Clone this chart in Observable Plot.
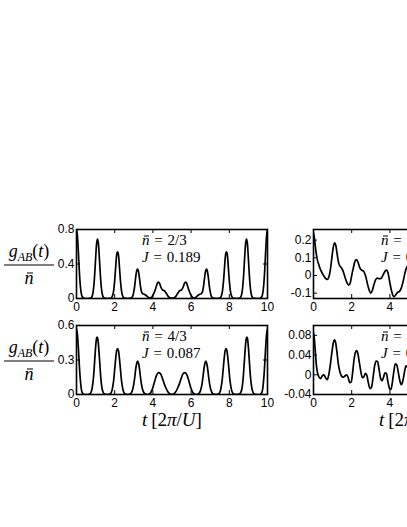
<!DOCTYPE html>
<html><head><meta charset="utf-8">
<script src="https://cdn.jsdelivr.net/npm/d3@7"></script>
<script src="https://cdn.jsdelivr.net/npm/@observablehq/plot@0.6"></script>
<style>
html,body{margin:0;padding:0;background:#fff;overflow:hidden;width:407px;height:527px}
#root{position:relative;width:560px;height:527px}
.tx{position:absolute;font-family:"Liberation Serif","DejaVu Serif",serif;color:#000;white-space:nowrap;line-height:1}
.ann{font-size:15px;transform:translateY(-50%);word-spacing:1px}
.frac{font-size:18px;text-align:center;width:50px;transform:translateY(-50%)}
.frac sub{font-size:12px;vertical-align:-4px}
.frac .bar{height:1px;background:#000;margin:2px 0 3px 0}
.xl{font-size:19px;transform:translate(-50%,-50%)}
.nb{position:relative;display:inline-block}
.nb::after{content:"";position:absolute;left:0.12em;right:0.02em;top:0.22em;border-top:1px solid #000}
</style></head><body><div id="root"></div><script>
const xTicks = [0, 2, 4, 6, 8, 10];

// top-left: nbar = 2/3, J = 0.189
const tA = [0,0.05,0.1,0.15,0.2,0.25,0.3,0.4,0.55,0.75,0.85,0.9,0.95,1.0,1.05,1.1,1.15,1.2,1.25,1.3,1.35,1.45,1.62,1.8,1.9,1.95,2.0,2.05,2.1,2.15,2.2,2.25,2.3,2.35,2.4,2.5,2.68,2.85,2.95,3.0,3.05,3.1,3.15,3.2,3.25,3.3,3.35,3.4,3.47,3.55,3.65,3.75,3.85,3.95,4.05,4.15,4.22,4.28,4.35,4.42,4.5,4.6,4.7,4.8,4.9,5.0,5.1,5.2,5.3,5.4,5.5,5.58,5.65,5.72,5.78,5.85,5.95,6.05,6.15,6.25,6.35,6.45,6.53,6.6,6.65,6.7,6.75,6.8,6.85,6.9,6.95,7.0,7.05,7.15,7.32,7.5,7.6,7.65,7.7,7.75,7.8,7.85,7.9,7.95,8.0,8.05,8.1,8.2,8.38,8.55,8.65,8.7,8.75,8.8,8.85,8.9,8.95,9.0,9.05,9.1,9.15,9.25,9.45,9.6,9.7,9.75,9.8,9.85,9.9,9.95,10];
const gA = [0.80,0.72,0.53,0.31,0.15,0.06,0.02,0.003,0,0.005,0.05,0.13,0.27,0.46,0.63,0.69,0.63,0.46,0.27,0.13,0.05,0.005,0,0.005,0.04,0.10,0.21,0.36,0.50,0.54,0.50,0.36,0.21,0.10,0.04,0.005,0,0.005,0.03,0.08,0.15,0.25,0.32,0.34,0.31,0.23,0.14,0.08,0.055,0.05,0.035,0.015,0.005,0.02,0.06,0.12,0.17,0.19,0.175,0.13,0.10,0.09,0.06,0.025,0.008,0.004,0.008,0.025,0.06,0.09,0.10,0.13,0.175,0.19,0.17,0.12,0.06,0.02,0.005,0.015,0.035,0.05,0.055,0.08,0.14,0.23,0.31,0.34,0.32,0.25,0.15,0.08,0.03,0.005,0,0.005,0.04,0.10,0.21,0.36,0.50,0.54,0.50,0.36,0.21,0.10,0.04,0.005,0,0.005,0.05,0.13,0.27,0.46,0.63,0.69,0.63,0.46,0.27,0.13,0.05,0.005,0,0.003,0.02,0.06,0.15,0.31,0.53,0.72,0.80];

// bottom-left: nbar = 4/3, J = 0.087
const tB = [0,0.05,0.1,0.15,0.2,0.25,0.3,0.4,0.6,0.7,0.8,0.85,0.9,0.95,1.0,1.05,1.08,1.12,1.17,1.22,1.27,1.32,1.38,1.48,1.6,1.75,1.85,1.9,1.95,2.0,2.05,2.1,2.15,2.2,2.25,2.3,2.35,2.4,2.45,2.55,2.68,2.8,2.9,2.95,3.0,3.05,3.1,3.15,3.2,3.25,3.3,3.35,3.4,3.45,3.5,3.6,3.7,3.8,3.9,4.0,4.1,4.2,4.3,4.4,4.5,4.6,4.7,4.8,4.9,4.98,5.08,5.18,5.28,5.38,5.48,5.58,5.68,5.78,5.88,5.98,6.08,6.18,6.27,6.37,6.47,6.52,6.57,6.62,6.67,6.72,6.77,6.82,6.87,6.92,6.97,7.02,7.07,7.17,7.3,7.43,7.53,7.58,7.63,7.68,7.73,7.78,7.83,7.88,7.93,7.98,8.03,8.08,8.13,8.23,8.4,8.52,8.62,8.68,8.73,8.78,8.83,8.88,8.92,8.95,9.0,9.05,9.1,9.15,9.2,9.3,9.4,9.6,9.7,9.75,9.8,9.85,9.9,9.95,10];
const gB = [0.57,0.52,0.40,0.25,0.13,0.05,0.015,0,0,0.005,0.04,0.09,0.17,0.29,0.41,0.49,0.50,0.48,0.39,0.27,0.15,0.07,0.025,0.003,0,0.004,0.03,0.07,0.13,0.22,0.31,0.38,0.40,0.38,0.31,0.22,0.13,0.07,0.03,0.004,0,0.003,0.025,0.05,0.09,0.15,0.22,0.27,0.29,0.27,0.22,0.15,0.09,0.05,0.025,0.004,0,0.003,0.02,0.06,0.12,0.17,0.19,0.18,0.14,0.09,0.05,0.02,0.005,0,0.005,0.02,0.05,0.09,0.14,0.18,0.19,0.17,0.12,0.06,0.02,0.003,0,0.004,0.025,0.05,0.09,0.15,0.22,0.27,0.29,0.27,0.22,0.15,0.09,0.05,0.025,0.003,0,0.004,0.03,0.07,0.13,0.22,0.31,0.38,0.40,0.38,0.31,0.22,0.13,0.07,0.03,0.004,0,0.003,0.025,0.07,0.15,0.27,0.39,0.48,0.50,0.49,0.41,0.29,0.17,0.09,0.04,0.005,0,0,0.015,0.05,0.13,0.25,0.40,0.52,0.57];

// top-right
const tC = [0,0.05,0.1,0.15,0.2,0.28,0.38,0.5,0.62,0.72,0.8,0.88,0.95,1.02,1.1,1.17,1.24,1.3,1.37,1.45,1.55,1.65,1.75,1.85,1.93,2.0,2.08,2.17,2.25,2.33,2.42,2.52,2.62,2.72,2.82,2.92,3.0,3.08,3.17,3.25,3.35,3.45,3.55,3.65,3.75,3.82,3.9,3.98,4.07,4.15,4.22,4.3,4.4,4.5,4.6,4.7,4.8,4.9,5.0];
const gC = [0.24,0.21,0.16,0.12,0.09,0.06,0.03,0.005,-0.015,-0.022,-0.01,0.03,0.09,0.15,0.185,0.17,0.12,0.08,0.055,0.045,0.025,-0.01,-0.04,-0.055,-0.04,0,0.04,0.08,0.09,0.075,0.045,0.03,0.025,0,-0.045,-0.085,-0.10,-0.085,-0.05,-0.025,-0.015,-0.018,-0.015,0.005,0.025,0.03,0.015,-0.03,-0.08,-0.11,-0.12,-0.11,-0.095,-0.09,-0.07,-0.03,0.02,0.05,0.06];

// bottom-right
const tD = [0,0.05,0.1,0.15,0.2,0.28,0.37,0.46,0.54,0.63,0.72,0.8,0.88,0.96,1.04,1.1,1.16,1.23,1.3,1.38,1.46,1.55,1.63,1.72,1.8,1.9,1.98,2.05,2.12,2.2,2.26,2.33,2.4,2.48,2.56,2.64,2.72,2.8,2.88,2.96,3.04,3.12,3.2,3.28,3.35,3.43,3.5,3.58,3.66,3.74,3.82,3.9,3.98,4.05,4.12,4.2,4.28,4.36,4.44,4.52,4.6,4.68,4.76,4.84,4.92,5.0];
const gD = [0.085,0.07,0.045,0.02,0.006,-0.004,-0.008,-0.002,0,-0.006,-0.01,0,0.02,0.045,0.065,0.071,0.065,0.045,0.022,0.006,-0.002,-0.005,-0.003,0,-0.004,-0.016,-0.014,0.005,0.03,0.046,0.049,0.042,0.025,0.006,-0.006,-0.004,0.003,-0.002,-0.018,-0.028,-0.025,-0.005,0.018,0.028,0.027,0.012,-0.005,-0.012,-0.006,0.004,0.002,-0.015,-0.028,-0.03,-0.018,0.005,0.022,0.02,0.005,-0.012,-0.02,-0.012,0.005,0.018,0.015,0];

const yTicksA = [0, 0.4, 0.8];
const yTicksB = [0, 0.3, 0.6];
const yTicksC = [-0.1, 0, 0.1, 0.2];
const yTicksD = [-0.04, 0, 0.04, 0.08];
const nbarLabels = ["2/3", "4/3", "2/3", "4/3"];
const jLabels = ["0.189", "0.087", "0.05", "0.02"];

const root = document.getElementById("root");

function panel({t, g, left, top, w, h, yDomain, yTicks}) {
  const mL = 44, mR = 12, mT = 8, mB = 26, tl = 4;
  const rows = t.map((x, i) => ({t: x, g: g[i]}));
  const svg = Plot.plot({
    width: w + mL + mR, height: h + mT + mB,
    marginLeft: mL, marginRight: mR, marginTop: mT, marginBottom: mB,
    style: {fontFamily: "'Liberation Sans', Arial, sans-serif", fontSize: "12px", color: "#000", background: "transparent", overflow: "visible"},
    x: {domain: [0, 10], ticks: xTicks, tickSize: 0, tickPadding: 4, label: null},
    y: {domain: yDomain, ticks: yTicks, tickSize: 0, tickPadding: 2, label: null, tickFormat: d => String(d)},
    marks: [
      Plot.tickX(xTicks, {x: d => d, insetTop: h - tl, stroke: "#000"}),
      Plot.tickX(xTicks, {x: d => d, insetBottom: h - tl, stroke: "#000"}),
      Plot.tickY(yTicks, {y: d => d, insetRight: w - tl, stroke: "#000"}),
      Plot.tickY(yTicks, {y: d => d, insetLeft: w - tl, stroke: "#000"}),
      Plot.line(rows, {x: "t", y: "g", curve: "monotone-x", stroke: "#000", strokeWidth: 1.7, clip: true}),
      Plot.frame({stroke: "#000", strokeWidth: 1.6})
    ]
  });
  svg.style.position = "absolute";
  svg.style.left = (left - mL) + "px";
  svg.style.top = (top - mT) + "px";
  root.appendChild(svg);
}

const W = 191, H = 69;
panel({t: tA, g: gA, left: 76, top: 229, w: W, h: H, yDomain: [0, 0.8], yTicks: yTicksA});
panel({t: tB, g: gB, left: 76, top: 325, w: W, h: H, yDomain: [0, 0.6], yTicks: yTicksB});
panel({t: tC, g: gC, left: 313, top: 229, w: W, h: H, yDomain: [-0.13, 0.26], yTicks: yTicksC});
panel({t: tD, g: gD, left: 313, top: 325, w: W, h: H, yDomain: [-0.04, 0.1], yTicks: yTicksD});

function addHTML(html, cls, x, y) {
  const d = document.createElement("div");
  d.className = "tx " + cls;
  d.style.left = x + "px";
  d.style.top = y + "px";
  d.innerHTML = html;
  root.appendChild(d);
}
const nb = "<span class='nb'><i>n</i></span>";
// annotations
[[142, 240, 257], [142, 336, 353], [381, 240, 257], [381, 336, 353]].forEach(([x, y1, y2], i) => {
  addHTML(nb + " = " + nbarLabels[i], "ann", x, y1);
  addHTML("<i>J</i> = " + jLabels[i], "ann", x, y2);
});
// y labels
const fracHTML = "<div><i>g</i><sub><i>AB</i></sub>(<i>t</i>)</div><div class='bar'></div><div>" + nb + "</div>";
addHTML(fracHTML, "frac", 4, 264);
addHTML(fracHTML, "frac", 4, 360);
// x labels
const xl = "<i>t</i>&#8201;[2<i>π</i>/<i>U</i>]";
addHTML(xl, "xl", 172, 419);
addHTML(xl, "xl", 409, 419);
</script></body></html>
